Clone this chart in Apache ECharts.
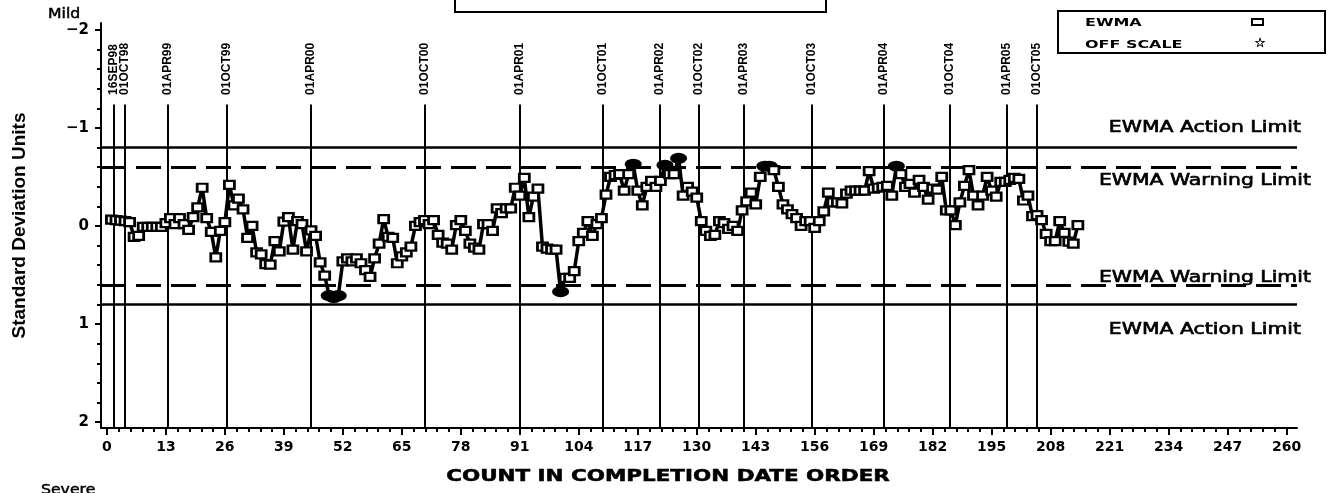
<!DOCTYPE html>
<html>
<head>
<meta charset="utf-8">
<title>EWMA chart</title>
<script src="https://cdn.jsdelivr.net/npm/echarts@6/dist/echarts.min.js"></script>
<style>
  html, body { margin: 0; padding: 0; background: #fff; }
  #chart { width: 1335px; height: 493px; }
</style>
</head>
<body>
<div id="chart"></div>
<script>
// EWMA in standard deviation units, one value per job (count 1..214)
var ewma = [
  -0.065, -0.06, -0.055, -0.05, -0.04, 0.11, 0.10, 0.01, 0.01, 0.01,
  0.01, 0.01, -0.03, -0.08, -0.02, -0.08, -0.02, 0.04, -0.09, -0.19,
  -0.39, -0.08, 0.06, 0.32, 0.05, -0.04, -0.42, -0.21, -0.28, -0.17,
  0.12, 0.0, 0.27, 0.29, 0.39, 0.395, 0.155, 0.26, -0.045, -0.09,
  0.24, -0.05, -0.02, 0.26, 0.045, 0.10, 0.37, 0.505, 0.71, 0.73,
  0.71, 0.36, 0.33, 0.36, 0.33, 0.38, 0.45, 0.52, 0.33, 0.18,
  -0.07, 0.11, 0.12, 0.38, 0.31, 0.27, 0.21, 0.0, -0.04, -0.06,
  -0.02, -0.06, 0.09, 0.17, 0.18, 0.24, -0.01, -0.06, 0.05, 0.18,
  0.22, 0.24, -0.02, -0.02, 0.05, -0.18, -0.13, -0.18, -0.18, -0.39,
  -0.31, -0.49, -0.09, -0.30, -0.38, 0.21, 0.23, 0.24, 0.24, 0.67,
  0.53, 0.53, 0.46, 0.155, 0.07, -0.05, 0.10, -0.02, -0.08, -0.32,
  -0.50, -0.52, -0.53, -0.36, -0.53, -0.63, -0.36, -0.21, -0.40, -0.46,
  -0.40, -0.46, -0.62, -0.53, -0.53, -0.69, -0.31, -0.40, -0.35, -0.29,
  -0.05, 0.05, 0.10, 0.09, -0.05, -0.03, 0.03, 0.0, 0.05, -0.16,
  -0.25, -0.34, -0.22, -0.50, -0.61, -0.61, -0.57, -0.40, -0.22, -0.17,
  -0.12, -0.08, 0.0, -0.05, -0.05, 0.02, -0.05, -0.15, -0.34, -0.24,
  -0.24, -0.23, -0.33, -0.36, -0.36, -0.36, -0.36, -0.56, -0.38, -0.39,
  -0.40, -0.41, -0.31, -0.61, -0.53, -0.40, -0.43, -0.34, -0.47, -0.40,
  -0.27, -0.38, -0.37, -0.50, -0.16, -0.16, -0.01, -0.24, -0.41, -0.57,
  -0.31, -0.21, -0.31, -0.50, -0.36, -0.30, -0.45, -0.45, -0.47, -0.49,
  -0.48, -0.26, -0.31, -0.10, -0.11, -0.06, 0.08, 0.155, 0.155, -0.05,
  0.07, 0.16, 0.18, -0.01
]

// reference dates drawn as vertical lines
var eventDates = ['16SEP98', '01OCT98', '01APR99', '01OCT99', '01APR00', '01OCT00',
  '01APR01', '01OCT01', '01APR02', '01OCT02', '01APR03', '01OCT03',
  '01APR04', '01OCT04', '01APR05', '01OCT05']
var eventCounts = [1.4, 3.9, 13.5, 26.5, 45, 70, 91, 109.3, 121.8, 130.5,
  140.4, 155.3, 171.3, 185.8, 198.3, 205]

var actionLimit = 0.8
var warningLimit = 0.6

var xTicks = [0, 13, 26, 39, 52, 65, 78, 91, 104, 117, 130, 143, 156, 169, 182, 195, 208, 221, 234, 247, 260]
var yTicks = [-2, -1, 0, 1, 2]

var xMin = -1.3
var xMax = 262.3
var yMin = -2.07
var yMax = 2.06

var xMinor = []
for (var i = 0; i < 100; i++) {
  if (i % 5 !== 0) xMinor.push(+(i * 2.6).toFixed(2))
}
var yMinor = []
for (var j = -10; j <= 10; j++) {
  if (j % 5 !== 0) yMinor.push(+(j * 0.2).toFixed(2))
}

var points = ewma.map(function(v, i) {
  var item = { value: [i + 1, v] }
  if (Math.abs(v) > warningLimit) {
    item.symbol = 'circle'
    item.symbolSize = [14, 9]
    item.itemStyle = { color: '#000', borderColor: '#000' }
  }
  return item
})

var black = '#000'
var tickFont = 'DejaVu Sans'

var chart = echarts.init(document.getElementById('chart'))

var option = {
  animation: false,
  backgroundColor: '#fff',
  grid: { left: 101, right: 38, top: 23, bottom: 65 },
  xAxis: [{
    type: 'value',
    min: xMin,
    max: xMax,
    position: 'bottom',
    axisLine: { show: true, onZero: false, lineStyle: { color: black, width: 2 }},
    axisTick: { show: true, customValues: xTicks, length: 7, lineStyle: { color: black, width: 2 }},
    axisLabel: { show: true, customValues: xTicks, margin: 12, color: black, fontFamily: tickFont, fontWeight: 'bold', fontSize: 14 },
    splitLine: { show: false }
  }, {
    // minor ticks only
    type: 'value',
    min: xMin,
    max: xMax,
    position: 'bottom',
    axisLine: { show: false, onZero: false },
    axisTick: { show: true, customValues: xMinor, length: 4, lineStyle: { color: black, width: 2 }},
    axisLabel: { show: false },
    splitLine: { show: false }
  }],
  yAxis: [{
    type: 'value',
    inverse: true,
    min: yMin,
    max: yMax,
    position: 'left',
    axisLine: { show: true, onZero: false, lineStyle: { color: black, width: 2 }},
    axisTick: { show: true, customValues: yTicks, length: 6, lineStyle: { color: black, width: 2 }},
    axisLabel: {
      show: true, customValues: yTicks, margin: 12, color: black,
      fontFamily: tickFont, fontWeight: 'bold', fontSize: 15,
      formatter: function(v) { return String(v).replace('-', '\u2212') }
    },
    splitLine: { show: false }
  }, {
    // minor ticks only
    type: 'value',
    inverse: true,
    min: yMin,
    max: yMax,
    position: 'left',
    offset: 0,
    axisLine: { show: false, onZero: false },
    axisTick: { show: true, customValues: yMinor, length: 4, lineStyle: { color: black, width: 2 }},
    axisLabel: { show: false },
    splitLine: { show: false }
  }],
  series: [{
    name: 'EWMA',
    type: 'line',
    data: points,
    symbol: 'rect',
    symbolSize: [10, 8],
    showAllSymbol: true,
    lineStyle: { color: black, width: 3.5 },
    itemStyle: { color: '#fff', borderColor: black, borderWidth: 2.5 },
    z: 5,
    markLine: {
      silent: true,
      symbol: 'none',
      label: { show: false },
      z: 3,
      data: [
        { yAxis: -actionLimit, lineStyle: { color: black, width: 2.5, type: 'solid' }},
        { yAxis: actionLimit, lineStyle: { color: black, width: 2.5, type: 'solid' }},
        { yAxis: -warningLimit, lineStyle: { color: black, width: 3, type: [25, 10] }},
        { yAxis: warningLimit, lineStyle: { color: black, width: 3, type: [25, 10] }}
      ].concat(eventCounts.map(function(c) {
        return [
          { coord: [c, -1.24], lineStyle: { color: black, width: 2, type: 'solid' }},
          { coord: [c, yMax] }
        ]
      }))
    }
  }]
}

chart.setOption(option)

// text that SAS puts around the plot
function px(x, y) {
  return chart.convertToPixel({ xAxisIndex: 0, yAxisIndex: 0 }, [x, y])
}

var texts = []

eventDates.forEach(function(d, i) {
  var p = px(eventCounts[i], -1.337)
  texts.push({
    type: 'text', x: p[0], y: p[1], rotation: Math.PI / 2, z: 10,
    style: { text: d, font: 'bold 12px "Liberation Sans", Arial, sans-serif', fill: black, align: 'left', verticalAlign: 'middle' }
  })
})

var limitLabels = [
  { text: 'EWMA Action Limit', y: -actionLimit, dy: -19.5 },
  { text: 'EWMA Warning Limit', y: -warningLimit, dy: 14 },
  { text: 'EWMA Warning Limit', y: warningLimit, dy: -6.5 },
  { text: 'EWMA Action Limit', y: actionLimit, dy: 26 }
]
limitLabels.forEach(function(l) {
  var p = px(242, l.y)
  texts.push({
    type: 'text', x: p[0], y: p[1] + l.dy, scaleX: 1.36, z: 10,
    style: { text: l.text, font: '15px "DejaVu Sans", sans-serif', fill: black, stroke: black, lineWidth: 0.6, align: 'center', verticalAlign: 'middle' }
  })
})

texts.push({
  type: 'text', x: 20, y: 225.5, rotation: Math.PI / 2, z: 10,
  style: { text: 'Standard Deviation Units', font: 'bold 19px "Liberation Sans", Arial, sans-serif', fill: black, align: 'center', verticalAlign: 'middle' }
})
texts.push({
  type: 'text', x: 668, y: 477, scaleX: 1.43, z: 10,
  style: { text: 'COUNT IN COMPLETION DATE ORDER', font: 'bold 15px "DejaVu Sans", sans-serif', fill: black, stroke: black, lineWidth: 0.5, align: 'center', verticalAlign: 'middle' }
})
texts.push({
  type: 'text', x: 48, y: 14, scaleX: 1.12, z: 10,
  style: { text: 'Mild', font: '14px "DejaVu Sans", sans-serif', fill: black, stroke: black, lineWidth: 0.5, align: 'left', verticalAlign: 'middle' }
})
texts.push({
  type: 'text', x: 41, y: 490, scaleX: 1.12, z: 10,
  style: { text: 'Severe', font: '14px "DejaVu Sans", sans-serif', fill: black, stroke: black, lineWidth: 0.5, align: 'left', verticalAlign: 'middle' }
})

// frame cut off at the top of the page
texts.push({
  type: 'rect', z: 10,
  shape: { x: 455, y: -10, width: 371, height: 22 },
  style: { fill: null, stroke: black, lineWidth: 2 }
})

// legend
texts.push({
  type: 'group', z: 10,
  children: [
    { type: 'rect', shape: { x: 1058, y: 11, width: 267, height: 42 }, style: { fill: '#fff', stroke: black, lineWidth: 2 }},
    { type: 'text', x: 1085, y: 23, scaleX: 1.45, style: { text: 'EWMA', font: 'bold 11px "DejaVu Sans", sans-serif', fill: black, align: 'left', verticalAlign: 'middle' }},
    { type: 'text', x: 1085, y: 45, scaleX: 1.45, style: { text: 'OFF SCALE', font: 'bold 11px "DejaVu Sans", sans-serif', fill: black, align: 'left', verticalAlign: 'middle' }},
    { type: 'rect', shape: { x: 1252, y: 19, width: 11, height: 6 }, style: { fill: '#fff', stroke: black, lineWidth: 2 }},
    { type: 'text', x: 1260, y: 44, style: { text: '\u2606', font: 'bold 13px "DejaVu Sans", sans-serif', fill: black, stroke: black, lineWidth: 0.4, align: 'center', verticalAlign: 'middle' }}
  ]
})

chart.setOption({ graphic: texts })
</script>
</body>
</html>
